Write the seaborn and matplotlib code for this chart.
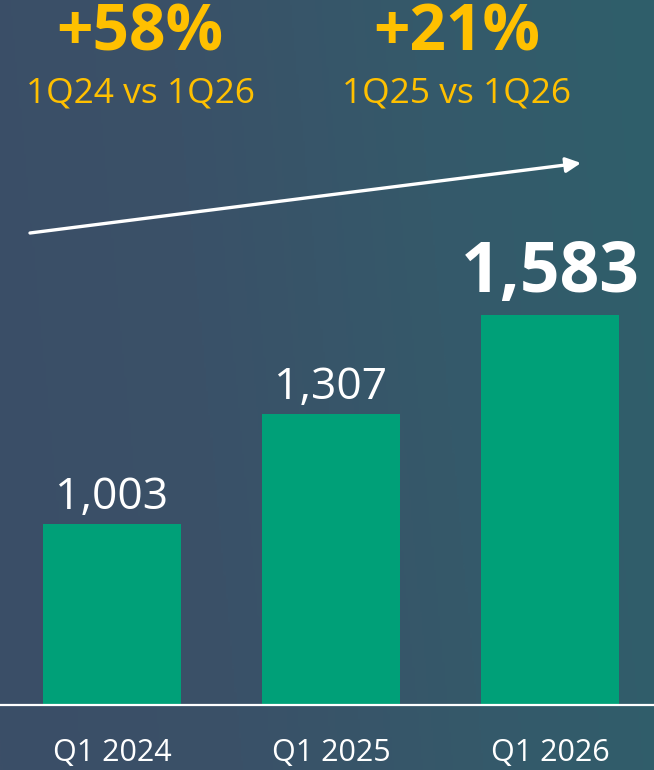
import numpy as np
import pandas as pd
import matplotlib
matplotlib.use("Agg")
import matplotlib.pyplot as plt
import seaborn as sns
from matplotlib.colors import LinearSegmentedColormap

sns.set_style("white")
plt.rcParams['font.family'] = ['Open Sans', 'DejaVu Sans']

# data
quarters = ["Q1 2024", "Q1 2025", "Q1 2026"]
values = [1003, 1307, 1583]
value_labels = ["1,003", "1,307", "1,583"]
growth = ["+58%", "+21%"]
growth_sub = ["1Q24 vs 1Q26", "1Q25 vs 1Q26"]

BAR = "#00a078"
YELLOW = "#ffc000"

df = pd.DataFrame({"quarter": quarters, "value": values})

fig = plt.figure(figsize=(6.54, 7.70), dpi=100)

# gradient background (left slate blue -> right teal)
bg = fig.add_axes([0, 0, 1, 1], zorder=-10)
cmap = LinearSegmentedColormap.from_list("bg", ["#3b4e67", "#3a5168", "#35596a", "#2f5f6b"])
gx, gy = np.meshgrid(np.linspace(0, 1, 300), np.linspace(0, 1, 300))
bg.imshow(0.9 * gx + 0.1 * gy, cmap=cmap, aspect="auto", extent=[0, 1, 0, 1],
          origin="lower", vmin=0, vmax=1)
bg.axis("off")

ax = fig.add_axes([0, 65 / 770, 1, 1 - 65 / 770])
ax.set_facecolor("none")
sns.barplot(data=df, x="quarter", y="value", color=BAR, width=0.63, saturation=1,
            linewidth=0, ax=ax)
ax.set_xlim(-0.511, 2.475)
ax.set_ylim(500, 500 + 705 / 0.36)

# value labels above bars
for i, (v, lab) in enumerate(zip(values, value_labels)):
    last = i == len(values) - 1
    ax.annotate(lab, (i, v), xytext=(0, 17 if last else 11), textcoords="offset points",
                ha="center", va="baseline", color="white",
                fontsize=50 if last else 32, fontweight="bold" if last else "normal")

# axes styling
sns.despine(ax=ax, left=True)
ax.spines["bottom"].set_color("white")
ax.spines["bottom"].set_linewidth(1.6)
ax.set_yticks([])
ax.set_xlabel("")
ax.set_ylabel("")
ax.tick_params(axis="x", length=0, colors="white", labelsize=22, pad=24)

# growth callouts at the top
for xc, g, s in zip([140, 457], growth, growth_sub):
    fig.text(xc / 654, 1 - 34 / 770, g, ha="center", va="center", color=YELLOW,
             fontsize=46, fontweight="bold")
    fig.text(xc / 654, 1 - 93 / 770, s, ha="center", va="center", color=YELLOW,
             fontsize=25.5)

# trend arrow
ax.annotate("", xy=(581, 770 - 163), xytext=(30, 770 - 233),
            xycoords="figure pixels", textcoords="figure pixels",
            arrowprops=dict(arrowstyle="-|>,head_length=0.9,head_width=0.45",
                            color="white", lw=2.4, shrinkA=0, shrinkB=0))

fig.savefig("out.png", dpi=100)
